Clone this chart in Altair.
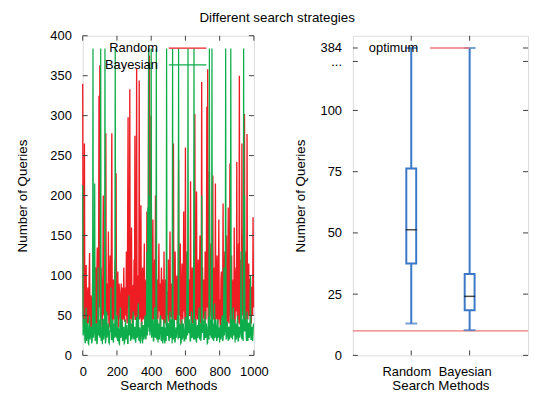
import altair as alt
import pandas as pd

# ---------------- data ----------------
random_queries = [
    340, 60, 35, 120, 265, 50, 40, 85, 113, 45, 28, 70, 85, 40, 45, 95, 128, 55, 35, 75,
    70, 40, 30, 90, 95, 50, 42, 75, 60, 38, 110, 65, 35, 100, 135, 45, 40, 85, 325, 60,
    363, 50, 45, 110, 90, 40, 32, 95, 200, 55, 50, 80, 100, 45, 278, 60, 38, 90, 85, 50,
    155, 45, 35, 100, 125, 40, 48, 150, 278, 50, 40, 85, 95, 45, 55, 105, 120, 40, 228, 60,
    60, 45, 105, 35, 38, 90, 80, 50, 45, 70, 90, 40, 35, 85, 75, 45, 110, 55, 42, 80,
    85, 50, 130, 45, 40, 170, 298, 60, 70, 40, 333, 55, 45, 90, 160, 50, 38, 75, 88, 45,
    120, 50, 275, 45, 45, 95, 360, 55, 40, 80, 100, 50, 344, 45, 50, 110, 188, 40, 35, 90,
    110, 45, 48, 95, 140, 50, 40, 85, 95, 45, 180, 60, 45, 120, 384, 70, 375, 55, 60, 90,
    300, 50, 40, 95, 170, 45, 55, 100, 120, 40, 200, 60, 35, 85, 95, 45, 48, 90, 140, 55,
    90, 40, 38, 85, 110, 50, 45, 95, 85, 40, 130, 55, 40, 80, 95, 45, 35, 75, 80, 50,
    120, 45, 42, 90, 155, 50, 48, 85, 90, 40, 60, 95, 265, 50, 38, 80, 130, 45, 45, 90,
    100, 40, 40, 85, 245, 55, 50, 95, 140, 45, 35, 80, 115, 50, 45, 90, 180, 55, 65, 40,
    260, 50, 40, 90, 130, 45, 35, 80, 95, 50, 50, 100, 218, 45, 42, 85, 110, 40, 48, 95,
    140, 50, 302, 45, 38, 95, 205, 55, 45, 85, 120, 40, 55, 105, 150, 45, 40, 90, 342, 60,
    110, 45, 50, 95, 85, 40, 130, 55, 45, 100, 311, 60, 358, 50, 40, 90, 230, 45, 60, 110,
    140, 50, 38, 90, 225, 45, 50, 100, 110, 40, 215, 55, 45, 95, 125, 50, 40, 85, 170, 45,
    70, 40, 35, 95, 105, 45, 45, 85, 190, 50, 40, 100, 130, 45, 48, 90, 150, 40, 38, 85,
    185, 45, 40, 100, 240, 50, 55, 95, 125, 40, 45, 90, 95, 50, 160, 45, 40, 95, 110, 55,
    242, 50, 45, 100, 140, 40, 350, 55, 38, 90, 120, 45, 265, 60, 50, 110, 160, 45, 302, 55,
    42, 90, 130, 45, 277, 60, 45, 100, 115, 50, 55, 95, 95, 45, 40, 85, 85, 50, 173, 60,
]

bayesian_queries = [
    213, 25, 30, 45, 45, 20, 15, 35, 60, 18, 22, 40, 38, 15, 14, 30, 50, 20, 25, 35,
    35, 15, 18, 40, 384, 22, 28, 45, 215, 18, 20, 35, 40, 14, 16, 30, 110, 25, 30, 45,
    22, 40, 384, 18, 35, 25, 14, 45, 45, 20, 25, 35, 384, 15, 18, 40, 55, 22, 28, 35,
    40, 16, 15, 30, 30, 45, 85, 20, 20, 35, 45, 18, 16, 40, 35, 22, 384, 25, 24, 38,
    50, 20, 18, 35, 32, 15, 14, 40, 60, 22, 25, 45, 40, 18, 20, 35, 35, 15, 16, 30,
    45, 20, 22, 38, 30, 15, 15, 40, 75, 25, 28, 45, 18, 35, 40, 20, 24, 45, 55, 22,
    20, 35, 35, 18, 16, 40, 48, 22, 25, 45, 65, 20, 18, 35, 30, 15, 22, 40, 42, 25,
    15, 35, 38, 20, 24, 45, 50, 22, 20, 40, 130, 25, 185, 35, 384, 30, 200, 25, 30, 45,
    384, 22, 25, 40, 45, 18, 18, 35, 60, 25, 22, 40, 384, 20, 35, 45, 16, 30, 40, 20,
    28, 45, 50, 20, 18, 35, 35, 15, 22, 40, 45, 20, 15, 35, 30, 18, 384, 25, 25, 40,
    40, 20, 18, 35, 55, 22, 24, 45, 32, 15, 384, 25, 20, 40, 45, 18, 16, 30, 35, 22,
    28, 45, 50, 20, 384, 25, 22, 40, 38, 15, 16, 35, 45, 20, 25, 40, 30, 18, 18, 35,
    48, 20, 22, 40, 130, 25, 384, 30, 28, 45, 40, 18, 18, 35, 55, 22, 24, 40, 35, 20,
    384, 25, 20, 40, 45, 18, 16, 35, 38, 22, 25, 45, 60, 20, 30, 40, 18, 25, 200, 35,
    28, 45, 42, 20, 20, 35, 55, 22, 24, 40, 35, 15, 16, 30, 48, 20, 384, 25, 30, 45,
    22, 40, 384, 20, 40, 25, 18, 35, 65, 22, 25, 45, 35, 18, 20, 40, 45, 22, 28, 35,
    16, 35, 38, 20, 24, 45, 50, 18, 20, 35, 110, 25, 30, 45, 384, 20, 22, 40, 42, 25,
    18, 35, 35, 20, 25, 45, 384, 22, 45, 30, 20, 40, 60, 25, 28, 45, 16, 30, 40, 20,
    24, 40, 50, 18, 18, 35, 35, 22, 28, 45, 130, 25, 20, 40, 45, 18, 384, 30, 200, 35,
    30, 45, 22, 18, 55, 25, 18, 40, 40, 22, 25, 45, 100, 20, 20, 35, 35, 18, 28, 40,
]

RUN_STEP = 2.5  # one sample every 2.5 runs
random_runs = [i * RUN_STEP for i in range(len(random_queries))]
bayesian_runs = [i * RUN_STEP for i in range(len(bayesian_queries))]

# box plot summary (right panel)
methods = ["Random", "Bayesian"]
method_pos = [1, 2]
box_min = [13.0, 10.3]
box_q1 = [37.5, 18.4]
box_median = [51.3, 24.1]
box_q3 = [76.3, 33.2]
box_max = [384, 384]
optimum = [10]

left_xticks = [0, 200, 400, 600, 800, 1000]
left_yticks = [0, 50, 100, 150, 200, 250, 300, 350, 400]
right_yticks = [0, 25, 50, 75, 100]

TITLE = "Different search strategies"

# broken axis: values above 100 are drawn at the break position
BREAK_DOTS = 120
BREAK_TOP = 125.5
def to_axis(v):
    return v if v <= 100 else BREAK_TOP

# ---------------- style ----------------
FONT = "Liberation Sans"
RED = "#ee1d24"
GREEN = "#0ead4b"
BLUE = "#3b78c8"
OPTC = "#f07878"
FRAME = "#404040"
LW, PH = 173, 323
RW = 177

common_axis = dict(ticks=False, tickSize=0, domain=False, grid=False, labelOverlap=False,
                   labelFlush=False,
                   labelFont=FONT, titleFont=FONT, labelFontSize=13,
                   titleFontSize=13.5, titleFontWeight="normal",
                   labelColor="black", titleColor="black")

# ---------------- left panel ----------------
xs = alt.Scale(domain=[0, 1000], nice=False, zero=False, padding=0)
ys = alt.Scale(domain=[0, 400], nice=False, padding=0)
xax = alt.Axis(values=left_xticks, format="d", labelPadding=10, titlePadding=0, **common_axis)
yax = alt.Axis(values=left_yticks, format="d", labelPadding=11.5, titlePadding=21, **common_axis)

def XL(field="x"):
    return alt.X(f"{field}:Q", scale=xs, axis=xax, title="Search Methods")

def YL(field="y"):
    return alt.Y(f"{field}:Q", scale=ys, axis=yax, title="Number of Queries")

df_r = pd.DataFrame({"x": random_runs, "y": random_queries})
df_b = pd.DataFrame({"x": bayesian_runs, "y": bayesian_queries})

line_r = alt.Chart(df_r).mark_line(color=RED, strokeWidth=1.35).encode(x=XL(), y=YL())
line_b = alt.Chart(df_b).mark_line(color=GREEN, strokeWidth=1.25).encode(x=XL(), y=YL())

dxt = pd.DataFrame({"x": left_xticks})
dyt = pd.DataFrame({"y": left_yticks})
lt_bottom = alt.Chart(dxt).mark_rule(color=FRAME).encode(x=XL(), y=alt.value(PH), y2=alt.value(PH - 5))
lt_top = alt.Chart(dxt).mark_rule(color=FRAME).encode(x=XL(), y=alt.value(0), y2=alt.value(5))
lt_left = alt.Chart(dyt).mark_rule(color=FRAME).encode(y=YL(), x=alt.value(0), x2=alt.value(5))
lt_right = alt.Chart(dyt).mark_rule(color=FRAME).encode(y=YL(), x=alt.value(LW - 5), x2=alt.value(LW))

one = pd.DataFrame({"a": [0]})
def label(txt, x, y, align="right", size=13):
    return alt.Chart(one).mark_text(font=FONT, fontSize=size, align=align, baseline="middle",
                                    color="black").encode(x=alt.value(x), y=alt.value(y), text=alt.value(txt))

def key_line(color, x1, x2, y, w=1.2):
    return alt.Chart(one).mark_rule(color=color, strokeWidth=w).encode(
        x=alt.value(x1), x2=alt.value(x2), y=alt.value(y))

title_mark = alt.Chart(one).mark_text(font=FONT, fontSize=13.5, align="center", baseline="alphabetic",
                                      color="black").encode(x=alt.value(196.5), y=alt.value(-13.4),
                                                            text=alt.value(TITLE))

left = alt.layer(line_r, line_b, lt_bottom, lt_top, lt_left, lt_right,
                 label("Random", 76, 12.5), key_line(RED, 87, 125, 12.5),
                 label("Bayesian", 76, 29.5), key_line(GREEN, 87, 125, 29.5),
                 title_mark).properties(width=LW, height=PH)

# ---------------- right panel ----------------
rxs = alt.Scale(domain=[0, 3], nice=False, zero=False, padding=0)
rys = alt.Scale(domain=[0, 130.5], nice=False, padding=0)
xlabel_expr = " : ".join([f"datum.value == {p} ? '{n}'" for p, n in zip(method_pos, methods)]) + " : ''"
rxax = alt.Axis(values=method_pos, labelExpr=xlabel_expr, labelPadding=10, labelOffset=-5,
                titlePadding=0, **common_axis)
ry_values = right_yticks + [BREAK_DOTS, BREAK_TOP]
rylabel_expr = f"datum.value == {BREAK_TOP} ? '{box_max[0]}' : datum.value == {BREAK_DOTS} ? '...' : datum.label"
ryax = alt.Axis(values=ry_values, labelExpr=rylabel_expr, labelPadding=11.5, titlePadding=13, **common_axis)

def XR(field="pos"):
    return alt.X(f"{field}:Q", scale=rxs, axis=rxax, title="Search Methods")

def YR(field):
    return alt.Y(f"{field}:Q", scale=rys, axis=ryax, title="Number of Queries")

df_box = pd.DataFrame({
    "pos": method_pos,
    "name": methods,
    "lo": [to_axis(v) for v in box_min],
    "q1": [to_axis(v) for v in box_q1],
    "med": [to_axis(v) for v in box_median],
    "q3": [to_axis(v) for v in box_q3],
    "hi": [to_axis(v) for v in box_max],
})

opt_line = alt.Chart(pd.DataFrame({"yv": optimum})).mark_rule(color=OPTC, strokeWidth=1.5).encode(y=YR("yv"))
whisk = alt.Chart(df_box).mark_rule(color=BLUE, strokeWidth=2).encode(x=XR(), y=YR("lo"), y2="hi")
box = alt.Chart(df_box).mark_bar(size=10, fill="white", stroke=BLUE, strokeWidth=2).encode(x=XR(), y=YR("q1"), y2="q3")
med = alt.Chart(df_box).mark_tick(orient="horizontal", size=11, thickness=1.5, color="black").encode(x=XR(), y=YR("med"))
cap_lo = alt.Chart(df_box).mark_tick(orient="horizontal", size=12, thickness=2, color=BLUE).encode(x=XR(), y=YR("lo"))
cap_hi = alt.Chart(df_box).mark_tick(orient="horizontal", size=12, thickness=2, color=BLUE).encode(x=XR(), y=YR("hi"))

drx = pd.DataFrame({"pos": method_pos})
dry = pd.DataFrame({"yv": ry_values})
rt_bottom = alt.Chart(drx).mark_rule(color=FRAME).encode(x=XR(), y=alt.value(PH), y2=alt.value(PH - 5))
rt_top = alt.Chart(drx).mark_rule(color=FRAME).encode(x=XR(), y=alt.value(0), y2=alt.value(5))
rt_left = alt.Chart(dry).mark_rule(color=FRAME).encode(y=YR("yv"), x=alt.value(0), x2=alt.value(5))
rt_right = alt.Chart(dry).mark_rule(color=FRAME).encode(y=YR("yv"), x=alt.value(RW - 5), x2=alt.value(RW))

right = alt.layer(opt_line, whisk, box, med, cap_lo, cap_hi,
                  rt_bottom, rt_top, rt_left, rt_right,
                  label("optimum", 66, 12.5), key_line(OPTC, 78, 118, 12.5, 1.5)
                  ).properties(width=RW, height=PH)

chart = alt.hconcat(left, right, spacing=100, bounds="flush").properties(
    padding={"left": 6.5, "top": 1, "right": 0, "bottom": 0},
).configure_view(stroke=FRAME, strokeWidth=1).configure(font=FONT)

chart.save("out.html", embed_options={"renderer": "svg", "actions": False})
